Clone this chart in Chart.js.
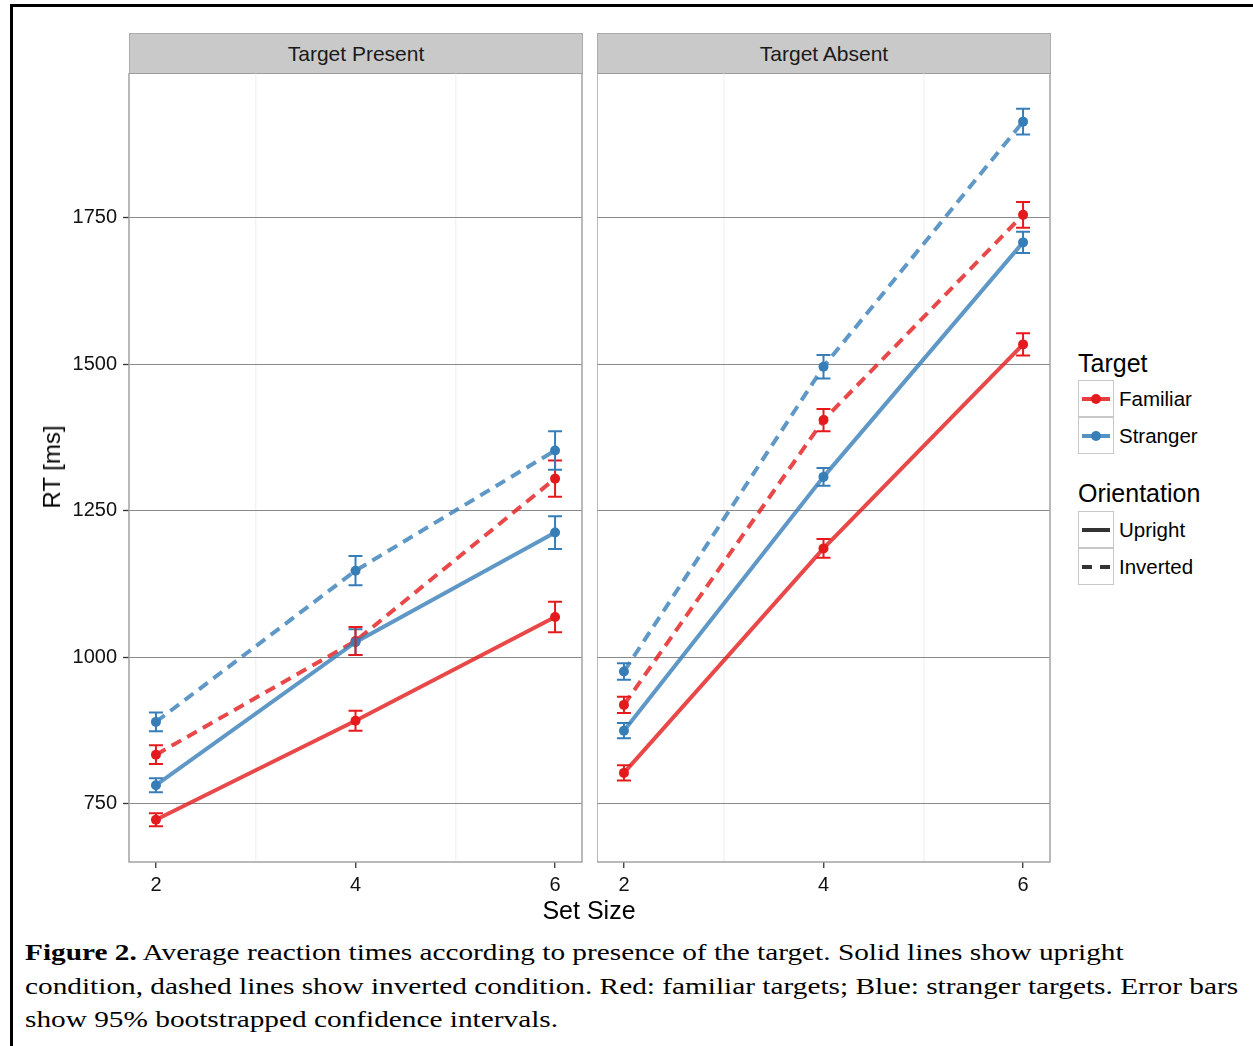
<!DOCTYPE html>
<html>
<head>
<meta charset="utf-8">
<script src="https://cdn.jsdelivr.net/npm/chart.js@4/dist/chart.umd.min.js"></script>
<style>
  body { margin: 0; background: #fff; font-family: 'Liberation Sans', Arial, sans-serif; }
  #page { position: relative; width: 1253px; height: 1046px; overflow: hidden; }
  .frame { position: absolute; left: 10px; top: 4px; width: 1260px; height: 1100px; border-top: 3px solid #000; border-left: 3px solid #000; }
  canvas { position: absolute; }
  .strip { position: absolute; top: 33px; height: 39px; width: 452px; background: #c9c9c9; border: 1px solid #ababab; border-bottom: 1.5px solid #8c8c8c;
           font-size: 21px; color: #1a1a1a; text-align: center; line-height: 40px; }
  .ytitle { position: absolute; left: 52px; top: 467px; transform: translate(-50%, -50%) rotate(-90deg); font-size: 24px; white-space: nowrap; color: #000; }
  .xtitle { position: absolute; left: 589px; top: 910px; transform: translate(-50%, -50%); font-size: 25px; color: #000; }
  .ltitle { position: absolute; left: 1078px; font-size: 25px; color: #000; transform: translateY(-50%); }
  .key { position: absolute; left: 1078px; width: 34px; height: 35px; border: 1.5px solid #c8c8c8; background: #fff; }
  .key .ln { position: absolute; left: 3px; width: 28px; top: 16px; height: 3.8px; }
  .key .dot { position: absolute; left: 12px; top: 12.5px; width: 10px; height: 10px; border-radius: 50%; }
  .llab { position: absolute; left: 1119px; font-size: 20.5px; color: #000; transform: translateY(-50%); }
  .caption { position: absolute; left: 25px; top: 936px; font-family: 'Liberation Serif', 'Times New Roman', serif; font-size: 23.5px; line-height: 33.5px; color: #000;
             white-space: nowrap; transform: scaleX(1.247); transform-origin: 0 0; }
</style>
</head>
<body>
<div id="page">
  <div class="frame"></div>
  <div class="strip" style="left:129px">Target Present</div>
  <div class="strip" style="left:597px">Target Absent</div>
  <canvas id="present" width="550" height="840" style="left:40px; top:73px; width:550px; height:840px"></canvas>
  <canvas id="absent" width="460" height="840" style="left:597px; top:73px; width:460px; height:840px"></canvas>
  <div class="ytitle">RT [ms]</div>
  <div class="xtitle">Set Size</div>

  <div class="ltitle" style="top:363px">Target</div>
  <div class="key" style="top:380px"><div class="ln" style="background:rgba(228,26,28,0.85)"></div><div class="dot" style="background:#e41a1c"></div></div>
  <div class="key" style="top:417px"><div class="ln" style="background:rgba(55,126,184,0.85)"></div><div class="dot" style="background:#377eb8"></div></div>
  <div class="llab" style="top:399px">Familiar</div>
  <div class="llab" style="top:436px">Stranger</div>

  <div class="ltitle" style="top:493px">Orientation</div>
  <div class="key" style="top:511px"><div class="ln" style="background:#333"></div></div>
  <div class="key" style="top:548px"><div class="ln" style="left:3px; width:10px; background:#333"></div><div class="ln" style="left:21px; width:10px; background:#333"></div></div>
  <div class="llab" style="top:530px">Upright</div>
  <div class="llab" style="top:567px">Inverted</div>

  <div class="caption"><b>Figure 2.</b> Average reaction times according to presence of the target. Solid lines show upright<br>condition, dashed lines show inverted condition. Red: familiar targets; Blue: stranger targets. Error bars<br>show 95% bootstrapped confidence intervals.</div>
</div>

<script>
// set sizes on the x axis
const setSizes = [2, 4, 6];
const xTicks = [2, 3, 4, 5, 6];
const yTicks = [750, 1000, 1250, 1500, 1750];

// Target Present: mean RT and half width of the 95% CI
const presFamUp = [723, 892, 1069];
const presFamUpCi = [11, 17, 26];
const presStrUp = [782, 1026, 1213];
const presStrUpCi = [12, 22, 28];
const presFamInv = [834, 1028, 1305];
const presFamInvCi = [16, 24, 31];
const presStrInv = [890, 1148, 1353];
const presStrInvCi = [16, 25, 33];

// Target Absent
const absFamUp = [803, 1186, 1534];
const absFamUpCi = [13, 16, 19];
const absStrUp = [875, 1308, 1708];
const absStrUpCi = [13, 15, 18];
const absFamInv = [919, 1405, 1755];
const absFamInvCi = [14, 19, 22];
const absStrInv = [976, 1496, 1914];
const absStrInvCi = [14, 20, 22];

const red = '#e41a1c', redLine = 'rgba(228,26,28,0.8)';
const blue = '#377eb8', blueLine = 'rgba(55,126,184,0.8)';
const dashed = [11, 7];

function series(label, mean, ci, point, line, dash) {
    return {
        label: label,
        data: setSizes.map((x, i) => ({ x: x, y: mean[i], ci: ci[i] })),
        borderColor: line,
        backgroundColor: point,
        pointBackgroundColor: point,
        pointBorderColor: point,
        pointBorderWidth: 0,
        pointRadius: 5,
        borderWidth: 4,
        borderDash: dash,
        tension: 0
    };
}

// grey panel border round the plot area
const panelBorder = {
    id: 'panelBorder',
    afterDatasetsDraw: function(chart) {
        const a = chart.chartArea, ctx = chart.ctx;
        ctx.save();
        ctx.strokeStyle = '#a3a3a3';
        ctx.lineWidth = 1.5;
        ctx.strokeRect(a.left, a.top, a.right - a.left, a.bottom - a.top);
        ctx.restore();
    }
};

// vertical error bars with caps
const errorBars = {
    id: 'errorBars',
    afterDatasetsDraw: function(chart) {
        const ctx = chart.ctx, ys = chart.scales.y;
        ctx.save();
        chart.data.datasets.forEach((ds, di) => {
            const meta = chart.getDatasetMeta(di);
            ctx.strokeStyle = ds.pointBackgroundColor;
            ctx.lineWidth = 2;
            ds.data.forEach((d, i) => {
                const px = meta.data[i].x;
                const top = ys.getPixelForValue(d.y + d.ci);
                const bot = ys.getPixelForValue(d.y - d.ci);
                ctx.beginPath();
                ctx.moveTo(px, top); ctx.lineTo(px, bot);
                ctx.moveTo(px - 7, top); ctx.lineTo(px + 7, top);
                ctx.moveTo(px - 7, bot); ctx.lineTo(px + 7, bot);
                ctx.stroke();
            });
        });
        ctx.restore();
    }
};

function makeChart(id, datasets, showY, padRight) {
    const tickFont = { family: 'Liberation Sans', size: 20 };
    return new Chart(document.getElementById(id), {
        type: 'line',
        data: { datasets: datasets },
        options: {
            responsive: false,
            animation: false,
            layout: { autoPadding: false, padding: { left: 0, right: padRight, top: 0, bottom: 0 } },
            plugins: { legend: { display: false }, tooltip: { enabled: false } },
            scales: {
                x: {
                    type: 'linear',
                    min: 1.73,
                    max: 6.27,
                    afterBuildTicks: s => { s.ticks = xTicks.map(v => ({ value: v })); },
                    afterFit: s => { s.height = 51; s.paddingLeft = 0; s.paddingRight = 0; },
                    border: { display: false },
                    grid: {
                        color: c => (c.tick && c.tick.value % 2) ? '#f4f4f4' : 'rgba(0,0,0,0)',
                        lineWidth: 1.5,
                        tickLength: 6,
                        tickWidth: 1.3,
                        tickColor: c => (c.tick && c.tick.value % 2) ? 'rgba(0,0,0,0)' : '#333'
                    },
                    ticks: {
                        callback: v => (v % 2 ? '' : String(v)),
                        font: tickFont,
                        color: '#111',
                        padding: 5,
                        maxRotation: 0,
                        autoSkip: false
                    }
                },
                y: {
                    min: 651,
                    max: 1997,
                    afterBuildTicks: s => { s.ticks = yTicks.map(v => ({ value: v })); },
                    afterFit: s => { s.width = showY ? 89 : 0; s.paddingTop = 0; s.paddingBottom = 0; },
                    border: { display: false },
                    grid: {
                        color: '#8a8a8a',
                        lineWidth: 1,
                        drawTicks: showY,
                        tickLength: 6,
                        tickWidth: 1.3,
                        tickColor: '#333'
                    },
                    ticks: {
                        display: showY,
                        callback: v => String(v),
                        font: tickFont,
                        color: '#111',
                        padding: 6
                    }
                }
            }
        },
        plugins: [panelBorder, errorBars]
    });
}

makeChart('present', [
    series('Familiar Upright', presFamUp, presFamUpCi, red, redLine, []),
    series('Stranger Upright', presStrUp, presStrUpCi, blue, blueLine, []),
    series('Familiar Inverted', presFamInv, presFamInvCi, red, redLine, dashed),
    series('Stranger Inverted', presStrInv, presStrInvCi, blue, blueLine, dashed)
], true, 8);

makeChart('absent', [
    series('Familiar Upright', absFamUp, absFamUpCi, red, redLine, []),
    series('Stranger Upright', absStrUp, absStrUpCi, blue, blueLine, []),
    series('Familiar Inverted', absFamInv, absFamInvCi, red, redLine, dashed),
    series('Stranger Inverted', absStrInv, absStrInvCi, blue, blueLine, dashed)
], false, 7);
</script>
</body>
</html>
